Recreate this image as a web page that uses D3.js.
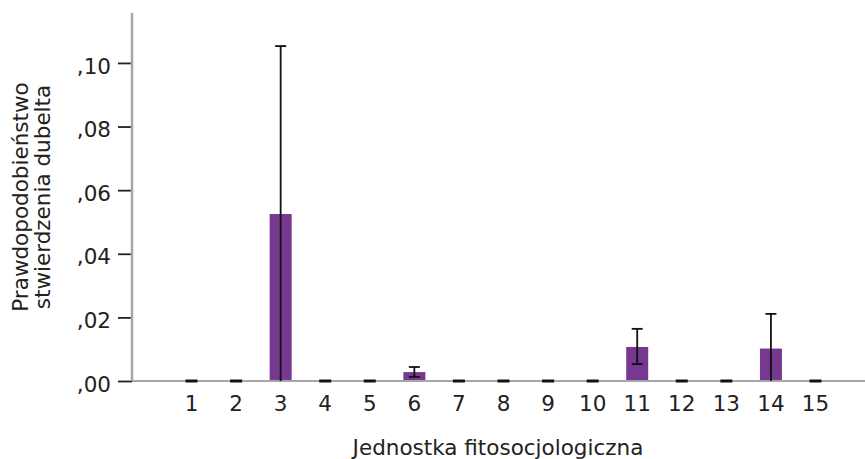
<!DOCTYPE html>
<html>
<head>
<meta charset="utf-8">
<script src="https://cdn.jsdelivr.net/npm/d3@7"></script>
<style>
  html, body { margin: 0; padding: 0; background: #fff; }
  svg { display: block; }
  text { font-family: "DejaVu Sans", Verdana, sans-serif; fill: #222; }
</style>
</head>
<body>
<svg id="chart" width="865" height="459"></svg>
<script>
// Phytosociological units and the estimated probability of recording the great snipe
const units = ["1","2","3","4","5","6","7","8","9","10","11","12","13","14","15"];
const means = [0, 0, 0.0525, 0, 0, 0.0028, 0, 0, 0, 0, 0.0107, 0, 0, 0.0102, 0];
const ciLow = [0, 0, 0, 0, 0, 0.0013, 0, 0, 0, 0, 0.0053, 0, 0, 0, 0];
const ciHigh = [0, 0, 0.1053, 0, 0, 0.0044, 0, 0, 0, 0, 0.0164, 0, 0, 0.0211, 0];
const yTicks = [0, 0.02, 0.04, 0.06, 0.08, 0.10];

const rows = units.map((u, i) => ({ unit: u, mean: means[i], lo: ciLow[i], hi: ciHigh[i] }));

const svg = d3.select("#chart");
const x0 = 132, yBase = 381, yTop = 13;
const fs = 21.5;

const y = d3.scaleLinear().domain([0, 0.1157]).range([yBase, yTop]);
const x = d3.scalePoint().domain(units).range([191.5, 815.5]);

const barW = 22, capW = 11, dashW = 12;

// y axis ticks and labels
const yAxis = svg.append("g").attr("transform", `translate(${x0},0)`)
  .call(d3.axisLeft(y).tickValues(yTicks).tickSize(14).tickPadding(7)
    .tickFormat(d => "," + d3.format(".2f")(d).split(".")[1]));
yAxis.select(".domain").remove();
yAxis.selectAll(".tick line").attr("stroke", "#222").attr("stroke-width", 1.8);
yAxis.selectAll(".tick text").attr("font-size", fs).attr("dy", "0.47em")
  .style("font-family", "'DejaVu Sans', Verdana, sans-serif").attr("fill", "#222");

// bars
svg.append("g").selectAll("rect").data(rows.filter(d => d.mean > 0)).join("rect")
  .attr("x", d => x(d.unit) - barW / 2)
  .attr("y", d => y(d.mean))
  .attr("width", barW)
  .attr("height", d => y(0) - y(d.mean))
  .attr("fill", "#77388f");

// axis lines
svg.append("line").attr("x1", x0).attr("x2", x0).attr("y1", yTop).attr("y2", yBase)
  .attr("stroke", "#a6a6a6").attr("stroke-width", 2.5);
svg.append("line").attr("x1", x0).attr("x2", 865).attr("y1", yBase).attr("y2", yBase)
  .attr("stroke", "#a6a6a6").attr("stroke-width", 2);

// zero markers for units without records
svg.append("g").selectAll("line").data(rows.filter(d => d.mean === 0)).join("line")
  .attr("x1", d => x(d.unit) - dashW / 2)
  .attr("x2", d => x(d.unit) + dashW / 2)
  .attr("y1", d => y(0)).attr("y2", d => y(0))
  .attr("stroke", "#111").attr("stroke-width", 3);

// error bars
const eb = svg.append("g").selectAll("g").data(rows.filter(d => d.hi > 0)).join("g")
  .attr("stroke", "#111").attr("stroke-width", 1.8);
eb.append("line")
  .attr("x1", d => x(d.unit)).attr("x2", d => x(d.unit))
  .attr("y1", d => y(d.lo)).attr("y2", d => y(d.hi));
eb.append("line")
  .attr("x1", d => x(d.unit) - capW / 2).attr("x2", d => x(d.unit) + capW / 2)
  .attr("y1", d => y(d.hi)).attr("y2", d => y(d.hi));
eb.filter(d => d.lo > 0).append("line")
  .attr("x1", d => x(d.unit) - capW / 2).attr("x2", d => x(d.unit) + capW / 2)
  .attr("y1", d => y(d.lo)).attr("y2", d => y(d.lo));

// x tick labels
svg.append("g").selectAll("text").data(units).join("text")
  .attr("x", d => x(d)).attr("y", 411)
  .attr("text-anchor", "middle").attr("font-size", fs)
  .text(d => d);

// axis titles
svg.append("text").attr("x", 498).attr("y", 455)
  .attr("text-anchor", "middle").attr("font-size", fs)
  .text("Jednostka fitosocjologiczna");

const yt = svg.append("text").attr("transform", "translate(0,197) rotate(-90)")
  .attr("text-anchor", "middle").attr("font-size", fs);
yt.append("tspan").attr("x", 0).attr("y", 28).text("Prawdopodobieństwo");
yt.append("tspan").attr("x", 0).attr("y", 50).text("stwierdzenia dubelta");
</script>
</body>
</html>
